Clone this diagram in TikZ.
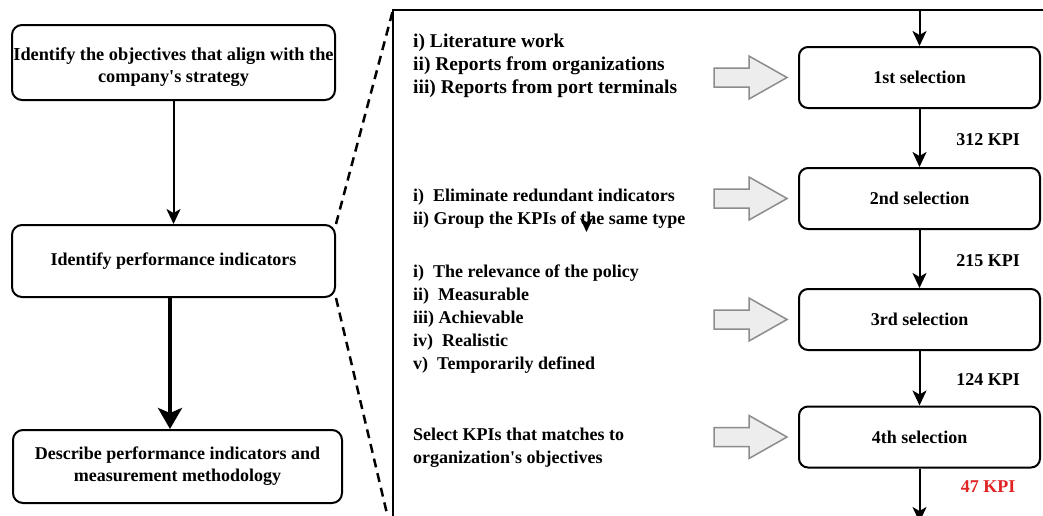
\documentclass[tikz,border=0pt]{standalone}
\usepackage{fontspec}
\setmainfont{Liberation Serif}
\usetikzlibrary{arrows.meta}
\definecolor{kpired}{HTML}{E02424}
\definecolor{hgray}{HTML}{8C8C8C}
\definecolor{hfill}{HTML}{EDEDED}
\newcommand\hollowarrow[1]{%
  \draw[hollow, shift={(#1.west)}] (-84,-9.5) -- (-49,-9.5) -- (-49,-21.5) -- (-11,0) -- (-49,21.5) -- (-49,9.5) -- (-84,9.5) -- cycle;}
\tikzset{
 leftbox/.style={draw, line width=2pt, rounded corners=10pt, align=center, font=\fontsize{18}{22}\selectfont\bfseries, inner sep=0pt},
 selbox/.style={draw, line width=2pt, rounded corners=9pt, minimum width=241pt, minimum height=61pt, font=\fontsize{18}{22}\selectfont\bfseries, inner sep=0pt},
 listtext/.style={anchor=base west, align=left, inner sep=0pt, font=\fontsize{18}{23}\selectfont\bfseries},
 kpi/.style={font=\fontsize{18}{22}\selectfont\bfseries, inner sep=0pt},
 flow/.style={line width=2pt, -{Stealth[length=15pt,width=14pt,inset=4pt]}},
 bigflow/.style={line width=3.5pt, -{Stealth[length=21pt,width=24pt,inset=5pt]}},
 zoomline/.style={line width=2.5pt, dash pattern=on 9pt off 6pt},
 frame/.style={line width=2.5pt},
 hollow/.style={draw=hgray, fill=hfill, line width=1.5pt, line join=miter},
}
\begin{document}
\begin{tikzpicture}[x=1pt,y=-1pt]
\useasboundingbox[fill=white] (0,0) rectangle (1043,515);

% left column
\node[leftbox, minimum width=323pt, minimum height=75pt] (b1) at (173.5,62.5) {\raisebox{-5pt}[\height][\depth]{\fontsize{18.3}{22}\selectfont\begin{tabular}{@{}c@{}}Identify the objectives that align with the\\company\textquotesingle s strategy\end{tabular}}};
\node[leftbox, minimum width=323pt, minimum height=72pt] (b2) at (173.5,261) {Identify performance indicators};
\node[leftbox, minimum width=329pt, minimum height=73pt] (b3) at (177.5,466.5) {Describe performance indicators and\\measurement methodology};
\draw[flow] (b1) -- (b2);
\draw[bigflow] ([xshift=-3.5pt]b2.south) -- ([xshift=-3.5pt]b2.south |- b3.north);

% zoom frame
\coordinate (ftl) at (393,10);
\coordinate (fbl) at (393,520);
\coordinate (fr) at (1050,10);
\coordinate (zb) at (388,518);
\draw[frame] (fbl) -- (ftl) -- (fr);
\draw[zoomline] (b2.north east) -- (ftl);
\draw[zoomline] (b2.south east) -- (zb);

% selection column
\coordinate (top) at (919.5,10);
\coordinate (bot) at (919.5,522);
\node[selbox] (s1) at (919.5,77.5) {1st selection};
\node[selbox] (s2) at (919.5,198.5) {2nd selection};
\node[selbox] (s3) at (919.5,319.5) {3rd selection};
\node[selbox] (s4) at (919.5,437) {4th selection};
\draw[flow] (top) -- (s1);
\draw[flow] (s1) -- (s2);
\draw[flow] (s2) -- (s3);
\draw[flow] (s3) -- (s4);
\draw[flow] (s4) -- (bot);
\node[kpi] (k1) at (988,140) {312 KPI};
\node[kpi] (k2) at (988,261) {215 KPI};
\node[kpi] (k3) at (988,380) {124 KPI};
\node[kpi, text=kpired] (k4) at (988,487) {47 KPI};

\hollowarrow{s1}
\hollowarrow{s2}
\hollowarrow{s3}
\hollowarrow{s4}

% criteria texts (anchored at the baseline of their last line)
\node[listtext, font=\fontsize{19.5}{23}\selectfont\bfseries] (t1) at (413,93) {i) Literature work\\ii) Reports from organizations\\iii) Reports from port terminals};
\node[listtext] (t2) at (413,224) {i)\ \ Eliminate redundant indicators\\ii) Group the KPIs of the same type};
\node[listtext] (t3) at (413,369) {i)\ \ The relevance of the policy\\ii)\ \ Measurable\\iii) Achievable\\iv)\ \ Realistic\\v)\ \ Temporarily defined};
\node[listtext] (t4) at (413,463) {Select KPIs that matches to\\organization\textquotesingle s objectives};
\fill (580,218) -- (586.5,222) -- (593,218) -- (586.5,232) -- cycle;
\end{tikzpicture}
\end{document}
